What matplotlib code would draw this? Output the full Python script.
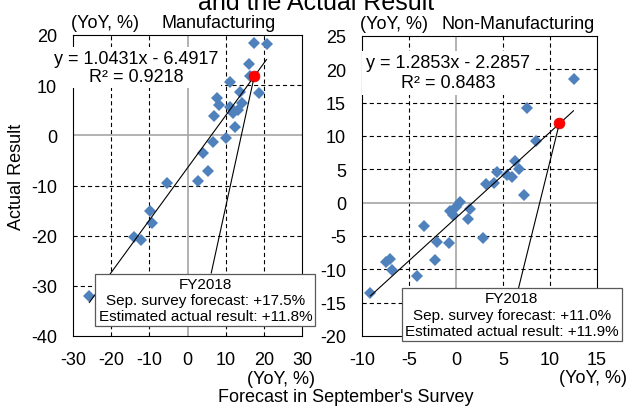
import matplotlib
matplotlib.use("Agg")
import matplotlib.pyplot as plt
import numpy as np

plt.rcParams['font.family'] = ['Liberation Sans', 'DejaVu Sans']
plt.rcParams['axes.unicode_minus'] = False
plt.rcParams['lines.scale_dashes'] = False

# ---------------- data ----------------
mfg_forecast = [17.5, 20.7, 16.2, 16.3, 18.7, 11.1, 13.7, 7.6, 8.3, 14.2, 11.1, 13.3, 12.0,
                6.9, 12.4, 10.0, 6.6, 4.1, 5.4, 2.8, -5.3, -9.8, -9.2, -13.9, -12.2, -25.7]
mfg_actual = [18.5, 18.2, 14.2, 11.9, 8.5, 10.7, 8.7, 7.4, 6.1, 6.5, 5.6, 5.1, 4.4,
              3.8, 1.6, -0.5, -1.4, -3.6, -7.2, -9.2, -9.5, -15.1, -17.4, -20.2, -20.8, -32.1]

nonmfg_forecast = [12.5, 7.6, 8.5, 6.3, 6.7, 4.4, 5.4, 6.0, 3.2, 4.0, 7.2, 0.4, 0.0, -0.6,
                   -0.3, 1.5, 1.3, -3.4, 2.9, -2.0, -0.7, -2.2, -7.4, -7.0, -6.8, -4.1, -9.1]
nonmfg_actual = [18.5, 14.2, 9.2, 6.2, 5.1, 4.6, 4.2, 3.9, 2.8, 3.0, 1.1, 0.1, -0.6, -1.3,
                 -1.8, -0.9, -2.4, -3.5, -5.3, -5.9, -6.1, -8.6, -8.9, -8.5, -10.1, -11.0, -13.5]

mfg_slope, mfg_intercept, mfg_r2 = 1.0431, -6.4917, 0.9218
nonmfg_slope, nonmfg_intercept, nonmfg_r2 = 1.2853, -2.2857, 0.8483

mfg_fy2018 = (17.5, 11.8)
nonmfg_fy2018 = (11.0, 11.9)

mfg_xticks = [-30, -20, -10, 0, 10, 20, 30]
mfg_yticks = [-40, -30, -20, -10, 0, 10, 20]
nonmfg_xticks = [-10, -5, 0, 5, 10, 15]
nonmfg_yticks = [-20, -15, -10, -5, 0, 5, 10, 15, 20, 25]

# ---------------- figure ----------------
W, H = 631, 410
fig = plt.figure(figsize=(W / 100, H / 100), dpi=100)

def fx(px):
    return px / W

def fy(py):
    return 1 - py / H

BLUE = '#4F81BD'
FS = 13

ax1 = fig.add_axes([fx(73), fy(337), (302 - 73) / W, (337 - 36) / H])
ax2 = fig.add_axes([fx(362), fy(337), (597 - 362) / W, (337 - 37) / H])


def style_axis(ax, xt, yt):
    ax.set_xlim(xt[0], xt[-1])
    ax.set_ylim(yt[0], yt[-1])
    ax.set_xticks(xt)
    ax.set_yticks(yt)
    ax.set_xticklabels([str(v) for v in xt])
    ax.set_yticklabels([str(v) for v in yt])
    ax.tick_params(length=0, labelsize=FS)
    ax.tick_params(axis='y', pad=11.5)
    ax.tick_params(axis='x', pad=10.5)
    ax.xaxis.set_zorder(2.7)
    ax.yaxis.set_zorder(2.7)
    for s in ax.spines.values():
        s.set_color('black')
        s.set_linewidth(0.8)
    for v in xt[1:-1]:
        if v == 0:
            ax.axvline(v, color='#A6A6A6', lw=1.2, zorder=1)
        else:
            ax.axvline(v, color='black', lw=0.8, ls=(0, (3, 2.2)), zorder=1)
    for v in yt[1:-1]:
        if v == 0:
            ax.axhline(v, color='#A6A6A6', lw=1.2, zorder=1)
        else:
            ax.axhline(v, color='black', lw=0.8, ls=(0, (3, 2.2)), zorder=1)


def draw_panel(ax, xs, ys, slope, intercept, fy_pt, box_text, box_pos):
    ax.plot(xs, ys, ls='none', marker='D', ms=6.4, color=BLUE, mew=0, zorder=3)
    xl = np.array([min(xs), max(xs)])
    ax.plot(xl, slope * xl + intercept, color='black', lw=0.8, zorder=4)
    ax.plot([fy_pt[0]], [fy_pt[1]], ls='none', marker='o', ms=7.8, color='#FF0000',
            mec='#E00000', mew=0.5, zorder=5)
    ax.annotate(box_text, xy=fy_pt, xycoords='data', xytext=box_pos,
                textcoords='axes fraction', ha='center', va='center', fontsize=11,
                linespacing=1.2, annotation_clip=False, zorder=6,
                bbox=dict(boxstyle='square,pad=0.2', fc='white', ec='#595959', lw=0.9),
                arrowprops=dict(arrowstyle='-', color='black', lw=0.8,
                                shrinkA=0, shrinkB=4))


style_axis(ax1, mfg_xticks, mfg_yticks)
style_axis(ax2, nonmfg_xticks, nonmfg_yticks)

draw_panel(ax1, mfg_forecast, mfg_actual, mfg_slope, mfg_intercept, mfg_fy2018,
           "FY2018\nSep. survey forecast: +%.1f%%\nEstimated actual result: +%.1f%%"
           % mfg_fy2018, (0.578, 0.12))
draw_panel(ax2, nonmfg_forecast, nonmfg_actual, nonmfg_slope, nonmfg_intercept, nonmfg_fy2018,
           "FY2018\nSep. survey forecast: +%.1f%%\nEstimated actual result: +%.1f%%"
           % nonmfg_fy2018, (0.638, 0.071))

# regression equations (drawn inside each axes so the tick labels stay on top)
ax1.text(fx(136), fy(68.7), "y = %.4fx - %.4f\nR² = %.4f" % (mfg_slope, -mfg_intercept, mfg_r2),
         transform=fig.transFigure, clip_on=False,
         ha='center', va='center', fontsize=FS, linespacing=1.1, multialignment='center',
         bbox=dict(boxstyle='square,pad=0.15', fc='white', ec='none'), zorder=2.6)
ax2.text(fx(448), fy(73.7), "y = %.4fx - %.4f\nR² = %.4f" % (nonmfg_slope, -nonmfg_intercept, nonmfg_r2),
         transform=fig.transFigure, clip_on=False,
         ha='center', va='center', fontsize=FS, linespacing=1.2, multialignment='center',
         bbox=dict(boxstyle='square,pad=0.2', fc='white', ec='none'), zorder=2.6)

# titles and labels
fig.text(fx(316), fy(10), "and the Actual Result", ha='center', va='baseline', fontsize=18)
fig.text(fx(105), fy(28), "(YoY, %)", ha='center', va='baseline', fontsize=FS)
fig.text(fx(219), fy(28), "Manufacturing", ha='center', va='baseline', fontsize=FS)
fig.text(fx(394.5), fy(29), "(YoY, %)", ha='center', va='baseline', fontsize=FS)
fig.text(fx(518.3), fy(29), "Non-Manufacturing", ha='center', va='baseline', fontsize=FS)
fig.text(fx(281), fy(384), "(YoY, %)", ha='center', va='baseline', fontsize=FS)
fig.text(fx(593), fy(383), "(YoY, %)", ha='center', va='baseline', fontsize=FS)
fig.text(fx(346), fy(402), "Forecast in September's Survey", ha='center', va='baseline', fontsize=FS)
fig.text(fx(17), fy(177), "Actual Result", ha='center', va='center', rotation=90, fontsize=FS)

fig.savefig("out.png", dpi=100)
